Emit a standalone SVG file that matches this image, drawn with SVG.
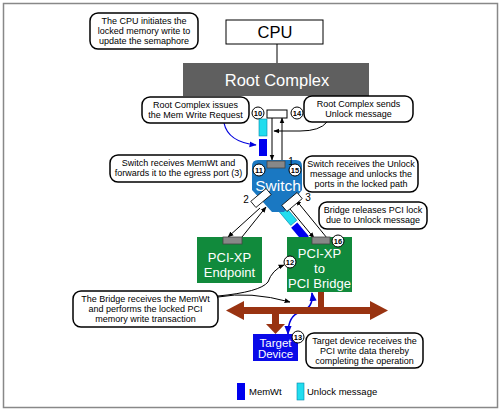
<svg xmlns="http://www.w3.org/2000/svg" width="500" height="410" viewBox="0 0 500 410">
<defs>
<style>
.co{fill:#fff;stroke:#000;stroke-width:1.5}
.ct{font-family:"Liberation Sans",Arial,sans-serif;font-size:9px;fill:#000;text-anchor:middle}
.wt{font-family:"Liberation Sans",Arial,sans-serif;fill:#fff;text-anchor:middle}
.num{fill:#fff;stroke:#000;stroke-width:1}
.nt{font-family:"Liberation Sans",Arial,sans-serif;font-size:7.5px;font-weight:bold;fill:#000;text-anchor:middle}
.ln{stroke:#000;stroke-width:1;fill:none}
.port{fill:#888;stroke:#444;stroke-width:0.8}
.green{fill:#118a3c}
.lbl{font-family:"Liberation Sans",Arial,sans-serif;font-size:10px;fill:#000;text-anchor:middle}
</style>
<marker id="ah" viewBox="0 0 10 10" refX="9" refY="5" markerWidth="6" markerHeight="6" orient="auto-start-reverse"><path d="M0,1 L10,5 L0,9 z" fill="#000"/></marker>
<marker id="ahb" viewBox="0 0 10 10" refX="9" refY="5" markerWidth="6" markerHeight="6" orient="auto-start-reverse"><path d="M0,1 L10,5 L0,9 z" fill="#0000dd"/></marker>
</defs>
<rect x="0" y="0" width="500" height="410" fill="#fff"/>
<rect x="3.5" y="3.5" width="494" height="404" fill="none" stroke="#888" stroke-width="1.5"/>

<g id="connectors">
<line x1="277" y1="44" x2="277" y2="63" class="ln"/>
<line x1="272" y1="118" x2="272" y2="160" class="ln" marker-end="url(#ah)"/>
<line x1="282" y1="160" x2="282" y2="118" class="ln" marker-end="url(#ah)"/>
<path d="M327,122 Q320,131 300,131 L274,131" class="ln" marker-end="url(#ah)"/>
<path d="M224,123 Q228,142 256,145" fill="none" stroke="#0000dd" stroke-width="1.2" marker-end="url(#ahb)"/>
<line x1="260" y1="208" x2="228" y2="237" class="ln" marker-end="url(#ah)"/>
<line x1="242" y1="237" x2="266" y2="207" class="ln" marker-end="url(#ah)"/>
<line x1="327" y1="238" x2="296" y2="200" class="ln" marker-end="url(#ah)"/>
<line x1="290" y1="209" x2="314" y2="238" class="ln" marker-end="url(#ah)"/>
<path d="M218,296 Q260,292 268,282 Q272,270 284,265" class="ln" marker-end="url(#ah)"/>
<path d="M218,297 Q250,291 290,302" class="ln" marker-end="url(#ah)"/>
<path d="M312,293 Q314,308 300,312 Q288,316 288,334" fill="none" stroke="#0000dd" stroke-width="1.5" marker-start="url(#ahb)" marker-end="url(#ahb)"/>
</g>

<g id="pci-bus" fill="#993311">
<rect x="318" y="292" width="6" height="18"/>
<rect x="240" y="307" width="135" height="7"/>
<path d="M226,310.5 L244,301 L244,320 z"/>
<path d="M388,310.5 L370,301 L370,320 z"/>
<rect x="272" y="310" width="7" height="16"/>
<path d="M266,324 L285,324 L275.5,334 z"/>
</g>

<g id="cpu">
<rect x="226" y="20" width="97" height="24" fill="#fff" stroke="#000" stroke-width="1"/>
<text x="275" y="38" font-family="Liberation Sans,Arial,sans-serif" font-size="16.5" text-anchor="middle">CPU</text>
</g>

<g id="root-complex">
<rect x="183" y="63" width="186" height="33" fill="#5f5f5f"/>
<text x="277" y="86" class="wt" font-size="16.5">Root Complex</text>
<rect x="267" y="110" width="20" height="8" fill="#fff" stroke="#000" stroke-width="1"/>
<circle cx="258" cy="113" r="6" class="num"/><text x="258" y="115.7" class="nt">10</text>
<circle cx="297" cy="113" r="6" class="num"/><text x="297" y="115.7" class="nt">14</text>
</g>

<g id="packets">
<rect x="259" y="119" width="8" height="17" fill="#22ddee" stroke="#0088aa" stroke-width="0.6"/>
<rect x="259" y="139" width="8" height="17" fill="#0000ee"/>
<rect x="284" y="207" width="8" height="18" fill="#22ddee" stroke="#0088aa" stroke-width="0.6" transform="rotate(-40 288 216)"/>
<rect x="296" y="223" width="8" height="18" fill="#0000ee" transform="rotate(-40 300 232)"/>
</g>

<g id="switch">
<path d="M258,160 H296 Q302,160 302,166 V190 L284,212 H272 L252,190 V166 Q252,160 258,160 Z" fill="#1a78c2"/>
<text x="278" y="191" class="wt" font-size="15.5">Switch</text>
<rect x="267" y="161" width="18" height="7" class="port"/>
<text x="291" y="165" class="lbl">1</text>
<circle cx="259" cy="170" r="6" class="num"/><text x="259" y="172.7" class="nt">11</text>
<circle cx="295" cy="170" r="6" class="num"/><text x="295" y="172.7" class="nt">15</text>
<rect x="251" y="194" width="20" height="8" fill="#fff" stroke="#000" stroke-width="0.8" transform="rotate(-40 261 198)"/>
<rect x="282" y="198" width="20" height="8" fill="#fff" stroke="#000" stroke-width="0.8" transform="rotate(-40 292 202)"/>
<text x="246" y="203" class="lbl">2</text>
<text x="308" y="201" class="lbl">3</text>
</g>

<g id="endpoint">
<rect x="197" y="237" width="65" height="46" class="green"/>
<rect x="223" y="237" width="19" height="7" class="port"/>
<text x="229.5" y="262" class="wt" font-size="13">PCI-XP</text>
<text x="229.5" y="277" class="wt" font-size="13">Endpoint</text>
</g>

<g id="bridge">
<rect x="287" y="237" width="65" height="55" class="green"/>
<rect x="312" y="237" width="18" height="7" class="port"/>
<circle cx="338" cy="241" r="6" class="num"/><text x="338" y="243.7" class="nt">16</text>
<circle cx="290" cy="262" r="6" class="num"/><text x="290" y="264.7" class="nt">12</text>
<text x="319.5" y="258" class="wt" font-size="13">PCI-XP</text>
<text x="319.5" y="273" class="wt" font-size="13">to</text>
<text x="319.5" y="288" class="wt" font-size="13">PCI Bridge</text>
</g>

<g id="target">
<rect x="253" y="334" width="45" height="27" fill="#0a0ae8"/>
<circle cx="298" cy="337" r="6" class="num"/><text x="298" y="339.7" class="nt">13</text>
<text x="275.5" y="346.5" class="wt" font-size="11.5">Target</text>
<text x="275.5" y="357.5" class="wt" font-size="11.5">Device</text>
</g>

<g id="callout-cpu">
<rect x="90" y="13" width="108" height="36" rx="8" class="co"/>
<text x="144" y="24" class="ct">The CPU initiates the</text>
<text x="144" y="34" class="ct">locked memory write to</text>
<text x="144" y="44" class="ct">update the semaphore</text>
</g>
<g id="callout-rc-issues">
<rect x="142" y="97" width="107" height="26" rx="8" class="co"/>
<text x="195.5" y="108" class="ct">Root Complex issues</text>
<text x="195.5" y="118" class="ct">the Mem Write Request</text>
</g>
<g id="callout-rc-sends">
<rect x="304" y="96" width="109" height="26" rx="8" class="co"/>
<text x="358.5" y="107" class="ct">Root Complex sends</text>
<text x="358.5" y="117" class="ct">Unlock message</text>
</g>
<g id="callout-switch-memwt">
<rect x="110" y="155" width="137" height="27" rx="8" class="co"/>
<text x="178.5" y="166" class="ct">Switch receives MemWt and</text>
<text x="178.5" y="176" class="ct">forwards it to the egress port (3)</text>
</g>
<g id="callout-switch-unlock">
<rect x="304" y="156" width="114" height="36" rx="8" class="co"/>
<text x="361" y="167" class="ct">Switch receives the Unlock</text>
<text x="361" y="177" class="ct">message and unlocks the</text>
<text x="361" y="187" class="ct">ports in the locked path</text>
</g>
<g id="callout-bridge-release">
<rect x="319" y="202" width="108" height="27" rx="8" class="co"/>
<text x="373" y="213" class="ct">Bridge releases PCI lock</text>
<text x="373" y="223" class="ct">due to Unlock message</text>
</g>
<g id="callout-bridge-receives">
<rect x="73" y="291" width="145" height="36" rx="8" class="co"/>
<text x="145.5" y="302" class="ct">The Bridge receives the MemWt</text>
<text x="145.5" y="312" class="ct">and performs the locked PCI</text>
<text x="145.5" y="322" class="ct">memory write transaction</text>
</g>
<g id="callout-target">
<rect x="306" y="333" width="117" height="35" rx="8" class="co"/>
<text x="364.5" y="344" class="ct">Target device receives the</text>
<text x="364.5" y="354" class="ct">PCI write data thereby</text>
<text x="364.5" y="364" class="ct">completing the operation</text>
</g>

<g id="legend">
<rect x="237" y="383" width="8" height="17" fill="#0000ee"/>
<text x="249" y="395" font-family="Liberation Sans,Arial,sans-serif" font-size="9.5">MemWt</text>
<rect x="297" y="383" width="7" height="17" fill="#22ddee" stroke="#0088aa" stroke-width="0.6"/>
<text x="307" y="395" font-family="Liberation Sans,Arial,sans-serif" font-size="9.5">Unlock message</text>
</g>
</svg>
